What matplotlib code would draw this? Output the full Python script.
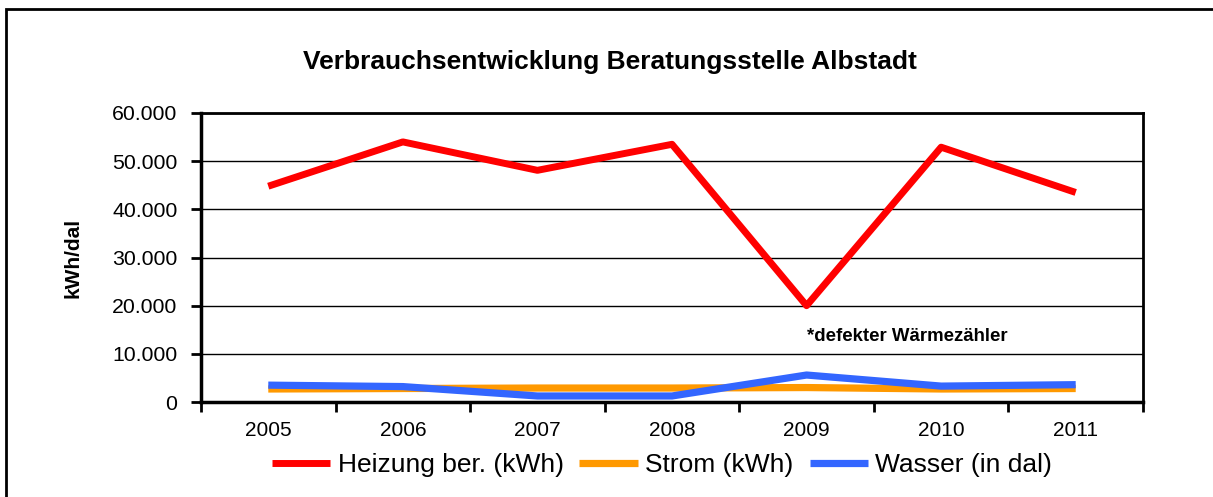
import matplotlib
matplotlib.use("Agg")
import matplotlib.pyplot as plt
from matplotlib.patches import Rectangle
from matplotlib.ticker import FuncFormatter, FixedLocator

plt.rcParams['font.family'] = ['Liberation Sans', 'DejaVu Sans']

years = ['2005', '2006', '2007', '2008', '2009', '2010', '2011']
heizung = [44800, 54000, 48100, 53500, 20000, 52900, 43500]
strom = [2700, 2800, 2900, 2900, 3000, 2700, 2800]
wasser = [3500, 3200, 1250, 1250, 5600, 3300, 3600]

W, H = 1213, 497
fig = plt.figure(figsize=(W / 100, H / 100), dpi=100)
ax = fig.add_axes([201 / W, 1 - 402 / H, (1143 - 201) / W, (402 - 113) / H])

x = list(range(len(years)))
ax.plot(x, strom, color='#FF9900', lw=5.2, solid_capstyle='butt', label='Strom (kWh)', zorder=3)
ax.plot(x, wasser, color='#3366FF', lw=5.2, solid_capstyle='butt', label='Wasser (in dal)', zorder=4)
ax.plot(x, heizung, color='#FF0000', lw=5.0, solid_capstyle='butt', label='Heizung ber. (kWh)', zorder=5)

ax.set_xlim(-0.5, len(years) - 0.5)
ax.set_ylim(0, 60000)
ax.set_yticks(range(0, 60001, 10000))
ax.yaxis.set_major_formatter(FuncFormatter(lambda v, p: f"{int(v):,}".replace(',', '.')))
ax.set_xticks(x)
ax.set_xticklabels(years)
ax.xaxis.set_minor_locator(FixedLocator([i - 0.5 for i in range(len(years) + 1)]))
ax.tick_params(axis='x', which='major', length=0, pad=14, labelsize=15)
ax.tick_params(axis='x', which='minor', length=7, width=2, direction='out')
ax.tick_params(axis='y', length=7, width=2, direction='out', pad=10, labelsize=15.3)
ax.grid(axis='y', color='black', lw=1.0)
ax.set_axisbelow(True)
for side in ['left', 'bottom']:
    ax.spines[side].set_linewidth(2.5)
for side in ['top', 'right']:
    ax.spines[side].set_linewidth(2.0)

fig.text(73 / W, 1 - 258 / H, 'kWh/dal', rotation=90, ha='center', va='center',
         fontsize=15, fontweight='bold')

fig.text(610 / W, 1 - 62 / H, 'Verbrauchsentwicklung Beratungsstelle Albstadt',
         ha='center', va='center', fontsize=19, fontweight='bold')
ax.text(4.75, 13700, '*defekter Wärmezähler', ha='center', va='center',
        fontsize=13.4, fontweight='bold')

handles, labels = ax.get_legend_handles_labels()
order = [2, 0, 1]
fig.legend([handles[i] for i in order], [labels[i] for i in order], loc='center',
           bbox_to_anchor=(662 / W, 1 - 465 / H), ncol=3, frameon=False, fontsize=19,
           handlelength=2.2, handletextpad=0.3, columnspacing=0.6)

fig.patches.append(Rectangle((6 / W, -0.1), 1.2, (1 - 9 / H) + 0.1, transform=fig.transFigure,
                             fill=False, ec='black', lw=2.0, clip_on=False))

fig.savefig('out.png', dpi=100, facecolor='white')
